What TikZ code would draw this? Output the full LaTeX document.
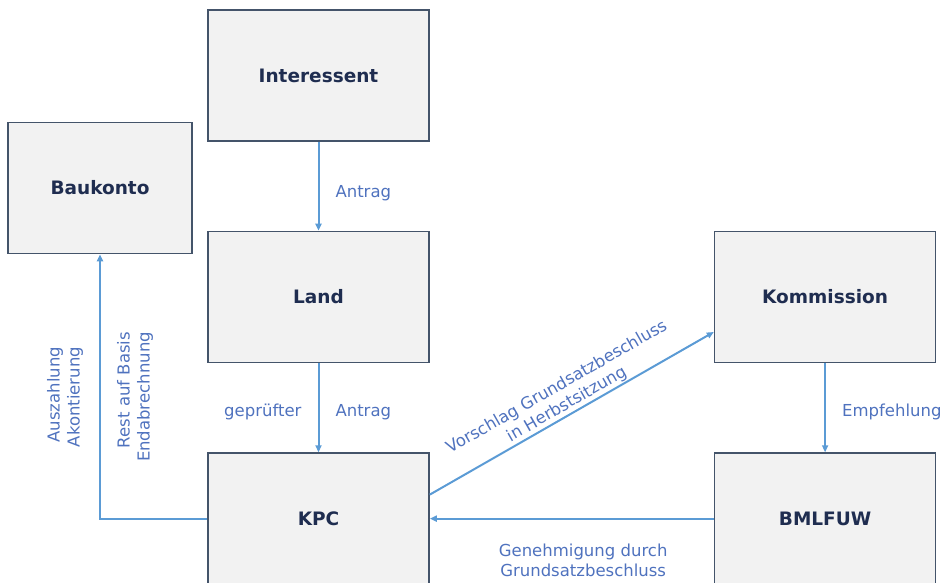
\documentclass[tikz,border=0pt]{standalone}
\usepackage{fontspec}
\setmainfont{DejaVu Sans}
\usetikzlibrary{arrows.meta, positioning}
\definecolor{boxfill}{RGB}{242,242,242}
\definecolor{boxline}{RGB}{68,84,106}
\definecolor{boxtext}{RGB}{31,45,80}
\definecolor{pilblue}{RGB}{91,155,213}
\definecolor{lblblue}{RGB}{79,114,190}

\begin{document}
\begin{tikzpicture}[
    x=1pt, y=-1pt,
    node distance = 89pt and 284pt,
    punkt/.style = {rectangle, draw=boxline, fill=boxfill, line width=1.6pt,
      minimum width=221pt, minimum height=131pt, text=boxtext,
      font=\bfseries\fontsize{18.5}{22}\selectfont},
    pil/.style = {pilblue, line width=2pt, -{Triangle[length=7pt, width=6pt]}},
    txt/.style = {text=lblblue, font=\fontsize{16.5}{20}\selectfont, inner sep=2pt}
    ]
  \useasboundingbox (0,0) rectangle (944,582);

  \node[punkt] (land) at (318.5,297) {Land} ;
  \node[punkt] (interessent) [above=of land] {Interessent} ;
  \node[punkt] (kpc) [below=of land] {KPC} ;
  \node[punkt] (kommission) [right=of land] {Kommission} ;
  \node[punkt] (bmlfuw) [below=of kommission] {BMLFUW} ;
  \node[punkt, minimum width=184pt] (baukonto) at (100,188) {Baukonto} ;

  \draw[pil] (interessent) -- node[txt, right=14pt, pos=0.58] {Antrag} (land) ;
  \draw[pil] (land) -- node[txt, left=14pt, pos=0.55] {geprüfter}
    node[txt, right=14pt, pos=0.55] {Antrag} (kpc) ;
  \draw[pil] (kommission) -- node[txt, right=14pt, pos=0.55] {Empfehlung} (bmlfuw) ;

  \draw[pil] ([yshift=24pt]kpc.east) -- node[txt, sloped, above, align=center, inner sep=1pt]
    {Vorschlag Grundsatzbeschluss\\in Herbstsitzung} ([yshift=-35pt]kommission.west) ;
  \draw[pil] (bmlfuw) -- node[txt, below=22pt, pos=0.46, align=center]
    {Genehmigung durch\\Grundsatzbeschluss} (kpc) ;

  \draw[pil] (kpc.west) -|
    node[txt, pos=0.73, xshift=-14pt, rotate=90, anchor=south, align=right] {Auszahlung\\Akontierung}
    node[txt, pos=0.73, xshift=14pt, rotate=90, anchor=north, align=right] {Rest auf Basis\\Endabrechnung}
    (baukonto.south) ;

\end{tikzpicture}
\end{document}
